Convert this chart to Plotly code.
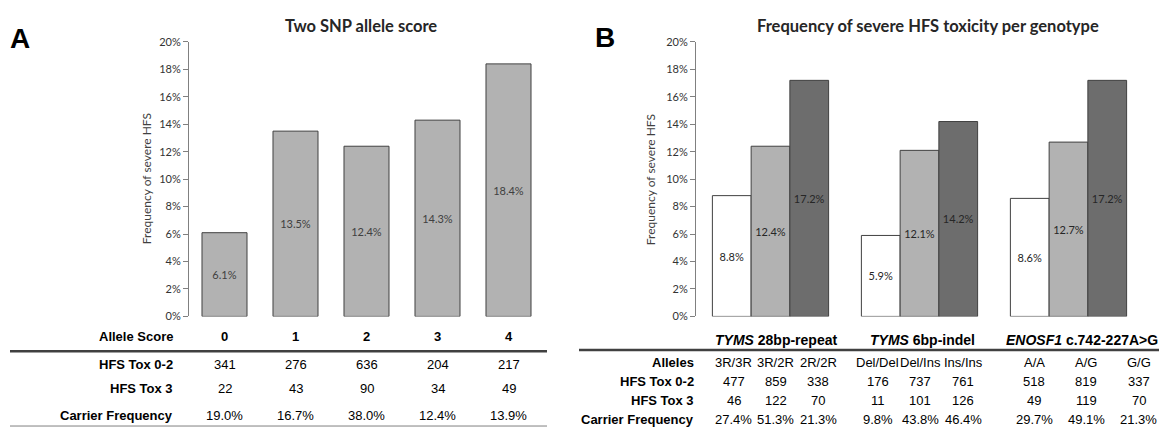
import plotly.graph_objects as go

# ---------------- data ----------------
allele_scores = ["0", "1", "2", "3", "4"]
freq_a = [0.061, 0.135, 0.124, 0.143, 0.184]
tox02_a = [341, 276, 636, 204, 217]
tox3_a = [22, 43, 90, 34, 49]
carrier_a = ["19.0%", "16.7%", "38.0%", "12.4%", "13.9%"]

genes = ["TYMS 28bp-repeat", "TYMS 6bp-indel", "ENOSF1 c.742-227A>G"]
gene_labels = ["<i>TYMS</i> 28bp-repeat", "<i>TYMS</i> 6bp-indel", "<i>ENOSF1</i> c.742-227A>G"]
freq_geno1 = [0.088, 0.059, 0.086]
freq_geno2 = [0.124, 0.121, 0.127]
freq_geno3 = [0.172, 0.142, 0.172]
alleles = ["3R/3R", "3R/2R", "2R/2R", "Del/Del", "Del/Ins", "Ins/Ins", "A/A", "A/G", "G/G"]
tox02_b = [477, 859, 338, 176, 737, 761, 518, 819, 337]
tox3_b = [46, 122, 70, 11, 101, 126, 49, 119, 70]
carrier_b = ["27.4%", "51.3%", "21.3%", "9.8%", "43.8%", "46.4%", "29.7%", "49.1%", "21.3%"]

yticks = [i / 100 for i in range(0, 21, 2)]

# ---------------- layout helpers ----------------
W, H = 1159, 433
def px(x):
    return x / W
def py(y):
    return 1 - y / H

CHART_FONT = "Lato, Open Sans, sans-serif"
TABLE_FONT = "Liberation Sans, Arial, sans-serif"
OUTLINE = "#404040"
LIGHT = "#b2b2b2"
DARK = "#6d6d6d"

fig = go.Figure()

fig.add_trace(go.Bar(
    x=allele_scores, y=freq_a, xaxis="x", yaxis="y",
    width=0.634,
    marker=dict(color=LIGHT, line=dict(color=OUTLINE, width=1)),
    texttemplate="%{y:.1%}", textposition="inside", insidetextanchor="middle",
    textangle=0, textfont=dict(family=CHART_FONT, size=11, color="#404040"),
    showlegend=False,
))

for vals, col in [(freq_geno1, "#ffffff"), (freq_geno2, LIGHT), (freq_geno3, DARK)]:
    fig.add_trace(go.Bar(
        x=genes, y=vals, xaxis="x2", yaxis="y2",
        marker=dict(color=col, line=dict(color=OUTLINE, width=1)),
        texttemplate="%{y:.1%}", textposition="inside", insidetextanchor="middle",
        textangle=0, textfont=dict(family=CHART_FONT, size=11, color="#262626"),
        showlegend=False,
    ))

yaxis_style = dict(
    range=[0, 0.2], tickvals=yticks, tickformat=".0%",
    ticks="outside", ticklen=5, tickcolor="#808080", tickwidth=1,
    showline=True, linecolor="#808080", linewidth=1,
    showgrid=False, zeroline=False,
    tickfont=dict(family=CHART_FONT, size=11, color="#333333"),
    domain=[py(319), py(36)],
)
xaxis_style = dict(showticklabels=False, showline=False, showgrid=False,
                   zeroline=False, ticks="", type="category")

annotations = []
def txt(x, y, text, size=13, bold=False, xanchor="center", xref="paper",
        font=TABLE_FONT, color="#000000", angle=0):
    annotations.append(dict(
        x=x, y=py(y), xref=xref, yref="paper", text=("<b>%s</b>" % text) if bold else text,
        showarrow=False, xanchor=xanchor, yanchor="middle", textangle=angle,
        font=dict(family=font, size=size, color=color),
    ))

# panel letters and titles
txt(px(8), 32, "A", size=28, bold=True, xanchor="left", font=TABLE_FONT)
txt(px(593), 31, "B", size=28, bold=True, xanchor="left", font=TABLE_FONT)
txt(px(361), 20, "Two SNP allele score", size=16.5, bold=True, font=CHART_FONT, color="#262626")
txt(px(928), 20, "Frequency of severe HFS toxicity per genotype", size=16.5, bold=True,
    font=CHART_FONT, color="#262626")
txt(px(146), 177.5, "Frequency of severe HFS", size=12, font=CHART_FONT, color="#404040", angle=-90)
txt(px(650), 177.5, "Frequency of severe HFS", size=12, font=CHART_FONT, color="#404040", angle=-90)

# table A
row_y_a = [340, 369, 393.5, 421]
for lab, yy in zip(["Allele Score", "HFS Tox 0-2", "HFS Tox 3", "Carrier Frequency"], row_y_a):
    txt(px(175), yy, lab, bold=True, xanchor="right")
for i, cat in enumerate(allele_scores):
    txt(cat, row_y_a[0], cat, bold=True, xref="x")
    txt(cat, row_y_a[1], str(tox02_a[i]), xref="x")
    txt(cat, row_y_a[2], str(tox3_a[i]), xref="x")
    txt(cat, row_y_a[3], carrier_a[i], xref="x")

# table B
col_x_b = [733.5, 775.5, 818, 878, 920, 963, 1034, 1086, 1138.5]
head_x_b = [776, 922, 1082]
for lab, xx in zip(gene_labels, head_x_b):
    txt(px(xx), 343.5, lab, size=14, bold=True)
row_y_b = [366, 386, 405.5, 425]
for lab, yy in zip(["Alleles", "HFS Tox 0-2", "HFS Tox 3", "Carrier Frequency"], row_y_b):
    txt(px(696), yy, lab, bold=True, xanchor="right")
for i, a in enumerate(alleles):
    xx = px(col_x_b[i])
    txt(xx, row_y_b[0], a)
    txt(xx, row_y_b[1], str(tox02_b[i]))
    txt(xx, row_y_b[2], str(tox3_b[i]))
    txt(xx, row_y_b[3], carrier_b[i])

shapes = [
    dict(type="line", xref="paper", yref="paper", x0=px(10), x1=px(547), y0=py(355), y1=py(355),
         line=dict(color="#404040", width=2.5)),
    dict(type="line", xref="paper", yref="paper", x0=px(10), x1=px(547), y0=py(432), y1=py(432),
         line=dict(color="#808080", width=1)),
    dict(type="line", xref="paper", yref="paper", x0=px(579), x1=px(1159), y0=py(353.5), y1=py(353.5),
         line=dict(color="#404040", width=2.5)),
]

fig.update_layout(
    width=W, height=H, autosize=False,
    margin=dict(l=0, r=0, t=0, b=0),
    paper_bgcolor="white", plot_bgcolor="white",
    barmode="group", bargap=0.22, bargroupgap=0,
    hovermode=False,
    xaxis=dict(domain=[px(189), px(544)], anchor="y", **xaxis_style),
    yaxis=dict(anchor="x", **yaxis_style),
    xaxis2=dict(domain=[px(696), px(1143)], anchor="y2", **xaxis_style),
    yaxis2=dict(anchor="x2", **yaxis_style),
    annotations=annotations, shapes=shapes,
    showlegend=False,
)

fig.write_html(
    "out.html",
    config={"displayModeBar": False},
    post_script="document.body.style.margin='0px';document.body.style.overflow='hidden';",
)
